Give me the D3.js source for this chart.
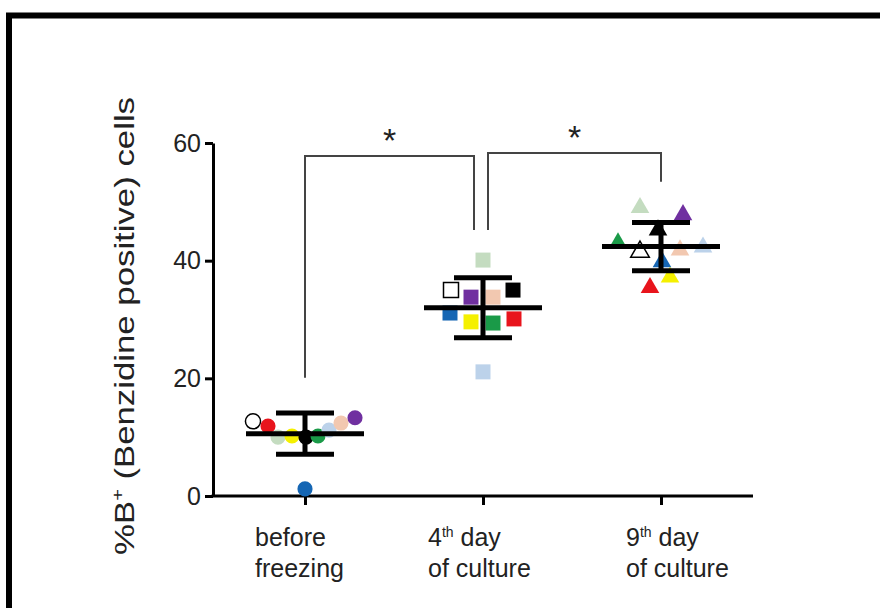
<!DOCTYPE html>
<html><head><meta charset="utf-8">
<script src="https://cdn.jsdelivr.net/npm/d3@7"></script>
<style>
html,body{margin:0;padding:0;background:#fff;}
text{font-family:"Liberation Sans",Arial,sans-serif;fill:#222;}
</style></head>
<body>
<svg id="chart" width="880" height="608"></svg>
<script>
// ---------- data ----------
const categories = ["before freezing", "4th day of culture", "9th day of culture"];
const subjectColors = ["#ffffff","#e8141c","#c4dcc0","#f5f000","#000000","#1a9a48","#bcd2ea","#f2c8b0","#7030a0","#1566b4"];
const subjectOpen   = [true,false,false,false,false,false,false,false,false,false];
const beforeValues = [12.7, 11.9, 10.0, 10.2, 10.0, 10.2, 11.2, 12.4, 13.3, 1.2];
const day4Values   = [35.0, 30.1, 40.1, 29.6, 35.0, 29.4, 21.1, 33.8, 33.8, 31.1];
const day9Values   = [41.5, 35.4, 49.0, 37.2, 45.2, 43.0, 42.3, 41.8, 47.8, 39.8];
const groupMeans = [10.6, 32.0, 42.4];
const groupSD    = [3.5, 5.1, 4.1];
const yTicks = [0, 20, 40, 60];
// significance brackets: [from group, to group, bracket top value, left leg bottom value, right leg bottom value]
const brackets = [[0, 1, 57.8, 20.1, 45.2], [1, 2, 58.3, 45.2, 53.4]];
const bracketLabels = ["*", "*"];

// ---------- layout constants ----------
const jitter = [
  [-52,-37,-27,-13,1,13,24,36,50,0],
  [-32,31,0,-12,30,10,0,10,-12,-33],
  [-21,-11,-21,9,-3,-43,42,19,22,1]
];
const shapes = [d3.symbolCircle, d3.symbolSquare, d3.symbolTriangle];
const shapeSize = [180, 225, 150];

const svg = d3.select("#chart");
svg.append("rect").attr("width",880).attr("height",608).attr("fill","#fff");
// outer frame
svg.append("rect").attr("x",9).attr("y",15.5).attr("width",900).attr("height",700)
  .attr("fill","none").attr("stroke","#000").attr("stroke-width",6);

const y = d3.scaleLinear().domain([0,60]).range([496,143]);
const x = d3.scalePoint().domain(categories).range([216,750]).padding(0.5);
const axisX0 = 213;

// y axis
const yAxis = svg.append("g").attr("transform",`translate(${axisX0},0)`)
  .call(d3.axisLeft(y).tickValues(yTicks).tickSize(8).tickSizeOuter(0).tickPadding(4));
yAxis.select(".domain").attr("stroke","#000").attr("stroke-width",3);
yAxis.selectAll(".tick line").attr("stroke","#000").attr("stroke-width",3);
yAxis.selectAll(".tick text").attr("font-size",25).attr("fill","#222")
  .attr("font-family","'Liberation Sans',Arial,sans-serif");

// x axis
const xAxis = svg.append("g").attr("transform",`translate(0,${y(0)})`)
  .call(d3.axisBottom(x).tickSize(9).tickSizeOuter(0).tickFormat(""));
xAxis.select(".domain").remove();
xAxis.selectAll(".tick line").attr("stroke","#000").attr("stroke-width",3);
svg.append("line").attr("x1",axisX0-1.5).attr("x2",753).attr("y1",y(0)).attr("y2",y(0))
  .attr("stroke","#000").attr("stroke-width",3);

// x labels
const labelShift = [-50,-55,-35];
const labelLines = [
  [[["before",false]],[["freezing",false]]],
  [[["4",false],["th",true],[" day",false]],[["of culture",false]]],
  [[["9",false],["th",true],[" day",false]],[["of culture",false]]]
];
categories.forEach((c,i)=>{
  labelLines[i].forEach((line,j)=>{
    const t = svg.append("text").attr("x",x(c)+labelShift[i]).attr("y",546+j*31)
      .attr("font-size",25);
    line.forEach(([s,sup])=>{
      const ts = t.append("tspan").text(s);
      if(sup) ts.attr("font-size",14).attr("dy",-9);
      else if(t.selectAll("tspan").size()>1) ts.attr("dy",9);
    });
  });
});

// y title
const yt = svg.append("text").attr("transform","translate(134,326) rotate(-90)")
  .attr("text-anchor","middle").attr("font-size",28)
  .attr("textLength",458).attr("lengthAdjust","spacingAndGlyphs");
yt.append("tspan").text("%B");
yt.append("tspan").text("+").attr("font-size",16).attr("dy",-11);
yt.append("tspan").text(" (Benzidine positive) cells").attr("dy",11);

// brackets
brackets.forEach(([a,b,top,lb,rb],i)=>{
  const xa = x(categories[a]) + (a===1 ? 5 : 0);
  const xb = x(categories[b]) - (b===1 ? 9 : 0);
  svg.append("path")
    .attr("d",`M${xa},${y(lb)}V${y(top)}H${xb}V${y(rb)}`)
    .attr("fill","none").attr("stroke","#444").attr("stroke-width",2);
  svg.append("text").attr("x",(xa+xb)/2).attr("y",y(top)-4).attr("text-anchor","middle")
    .attr("font-size",34).text(bracketLabels[i]);
});

// points
const groups = [beforeValues, day4Values, day9Values];
groups.forEach((vals,g)=>{
  const sym = d3.symbol().type(shapes[g]).size(shapeSize[g]);
  vals.forEach((v,k)=>{
    svg.append("path").attr("d",sym())
      .attr("transform",`translate(${x(categories[g])+jitter[g][k]},${y(v)})`)
      .attr("fill",subjectOpen[k] ? "#fff" : subjectColors[k])
      .attr("stroke",subjectOpen[k] ? "#000" : "none")
      .attr("stroke-width",1.5);
  });
});

// mean & SD bars
categories.forEach((c,g)=>{
  const cx = x(c), m = groupMeans[g], s = groupSD[g];
  const gg = svg.append("g").attr("stroke","#000").attr("stroke-width",5);
  gg.append("line").attr("x1",cx-59).attr("x2",cx+59).attr("y1",y(m)).attr("y2",y(m));
  gg.append("line").attr("x1",cx).attr("x2",cx).attr("y1",y(m+s)).attr("y2",y(m-s));
  gg.append("line").attr("x1",cx-29).attr("x2",cx+29).attr("y1",y(m+s)).attr("y2",y(m+s));
  gg.append("line").attr("x1",cx-29).attr("x2",cx+29).attr("y1",y(m-s)).attr("y2",y(m-s));
});
</script>
</body></html>
